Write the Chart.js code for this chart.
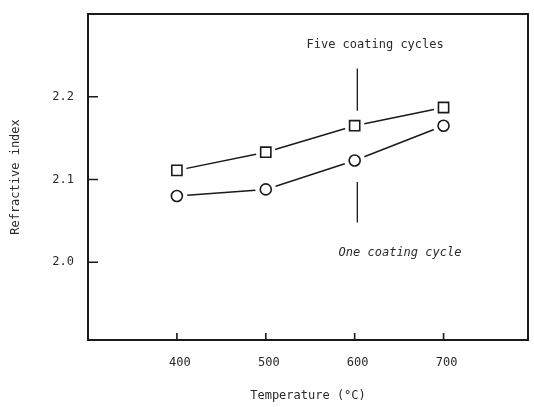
<!DOCTYPE html>
<html>
<head>
<meta charset="utf-8">
<script src="https://cdn.jsdelivr.net/npm/chart.js@4.4.1/dist/chart.umd.min.js"></script>
<style>
  html, body { margin: 0; padding: 0; background: #fff; overflow: hidden; }
  #wrap { width: 534px; height: 407px; }
</style>
</head>
<body>
<div id="wrap"><canvas id="chart"></canvas></div>
<script>
// values
const temps = [400, 500, 600, 700];
const fiveCycles = [2.111, 2.133, 2.165, 2.187];
const oneCycle = [2.080, 2.088, 2.123, 2.165];
const xTicks = [400, 500, 600, 700];
const yTicks = [2.0, 2.1, 2.2];
const leaderX = 603;
const fiveLeader = [2.234, 2.183];
const oneLeader = [2.097, 2.048];
const fiveLabel = { text: 'Five coating cycles', x: 623, y: 2.2625, italic: false };
const oneLabel = { text: 'One coating cycle', x: 651, y: 2.011, italic: true };

const ink = '#1a1a1a';
const textInk = '#2a2a2a';
const mono = "'DejaVu Sans Mono', 'Liberation Mono', monospace";
Chart.defaults.font.family = mono;
Chart.defaults.color = textInk;

const pts = (xs, ys) => xs.map((x, i) => ({ x: x, y: ys[i] }));
const vline = ys => ys.map(y => ({ x: leaderX, y: y }));

// box round the plot, inward ticks and the two labels
const framePlugin = {
  id: 'frame',
  afterDatasetsDraw(chart) {
    const { ctx, chartArea: a, scales: { x, y } } = chart;
    ctx.save();
    ctx.strokeStyle = ink;
    ctx.lineWidth = 2;
    ctx.strokeRect(a.left, a.top, a.right - a.left, a.bottom - a.top);
    ctx.lineWidth = 1.6;
    ctx.beginPath();
    xTicks.forEach(v => {
      const px = x.getPixelForValue(v);
      ctx.moveTo(px, a.bottom);
      ctx.lineTo(px, a.bottom - 7);
    });
    yTicks.forEach(v => {
      const py = y.getPixelForValue(v);
      ctx.moveTo(a.left, py);
      ctx.lineTo(a.left + 10, py);
    });
    ctx.stroke();
    ctx.fillStyle = textInk;
    ctx.textAlign = 'center';
    ctx.textBaseline = 'middle';
    [fiveLabel, oneLabel].forEach(l => {
      ctx.font = (l.italic ? 'italic ' : '') + '12px ' + mono;
      ctx.fillText(l.text, x.getPixelForValue(l.x), y.getPixelForValue(l.y));
    });
    ctx.restore();
  }
};

const ctx = document.querySelector('#chart').getContext('2d');
const myChart = new Chart(ctx, {
  type: 'scatter',
  data: {
    datasets: [
      { data: pts(temps, fiveCycles), pointStyle: 'rect', pointRadius: 7.2, pointBorderWidth: 1.6,
        pointBorderColor: ink, pointBackgroundColor: '#fff', showLine: false, order: 0 },
      { data: pts(temps, oneCycle), pointStyle: 'circle', pointRadius: 5.5, pointBorderWidth: 1.6,
        pointBorderColor: ink, pointBackgroundColor: '#fff', showLine: false, order: 0 },
      // white halos so the lines stop short of the markers
      { data: pts(temps, fiveCycles), pointRadius: 10, pointBorderWidth: 0,
        pointBackgroundColor: '#fff', showLine: false, order: 1 },
      { data: pts(temps, oneCycle), pointRadius: 10.5, pointBorderWidth: 0,
        pointBackgroundColor: '#fff', showLine: false, order: 1 },
      { data: pts(temps, fiveCycles), showLine: true, pointRadius: 0, borderColor: ink, borderWidth: 1.5, order: 2 },
      { data: pts(temps, oneCycle), showLine: true, pointRadius: 0, borderColor: ink, borderWidth: 1.5, order: 2 },
      { data: vline(fiveLeader), showLine: true, pointRadius: 0, borderColor: ink, borderWidth: 1.3, order: 2 },
      { data: vline(oneLeader), showLine: true, pointRadius: 0, borderColor: ink, borderWidth: 1.3, order: 2 }
    ]
  },
  options: {
    responsive: true,
    maintainAspectRatio: false,
    animation: false,
    events: [],
    layout: { autoPadding: false, padding: { top: 14, right: 6, left: 0, bottom: 0 } },
    plugins: { legend: { display: false }, tooltip: { enabled: false } },
    scales: {
      x: {
        type: 'linear',
        min: 300,
        max: 795,
        afterBuildTicks: s => { s.ticks = xTicks.map(v => ({ value: v })); },
        afterFit: s => { s.height = 67; s.paddingLeft = 0; s.paddingRight = 0; },
        grid: { display: false, drawTicks: false },
        border: { display: false },
        ticks: { padding: 16, labelOffset: 3, font: { size: 12 }, color: textInk },
        title: { display: true, text: 'Temperature (°C)', font: { size: 12 }, color: textInk, padding: { top: 0, bottom: 4 } }
      },
      y: {
        type: 'linear',
        min: 1.906,
        max: 2.3,
        afterBuildTicks: s => { s.ticks = yTicks.map(v => ({ value: v })); },
        afterFit: s => { s.width = 88; s.paddingTop = 0; s.paddingBottom = 0; },
        grid: { display: false, drawTicks: false },
        border: { display: false },
        ticks: { padding: 14, font: { size: 12 }, color: textInk, callback: v => v.toFixed(1) },
        title: { display: true, text: 'Refractive index', font: { size: 12 }, color: textInk, padding: { top: 9, bottom: 0 } }
      }
    }
  },
  plugins: [framePlugin]
});
</script>
</body>
</html>
